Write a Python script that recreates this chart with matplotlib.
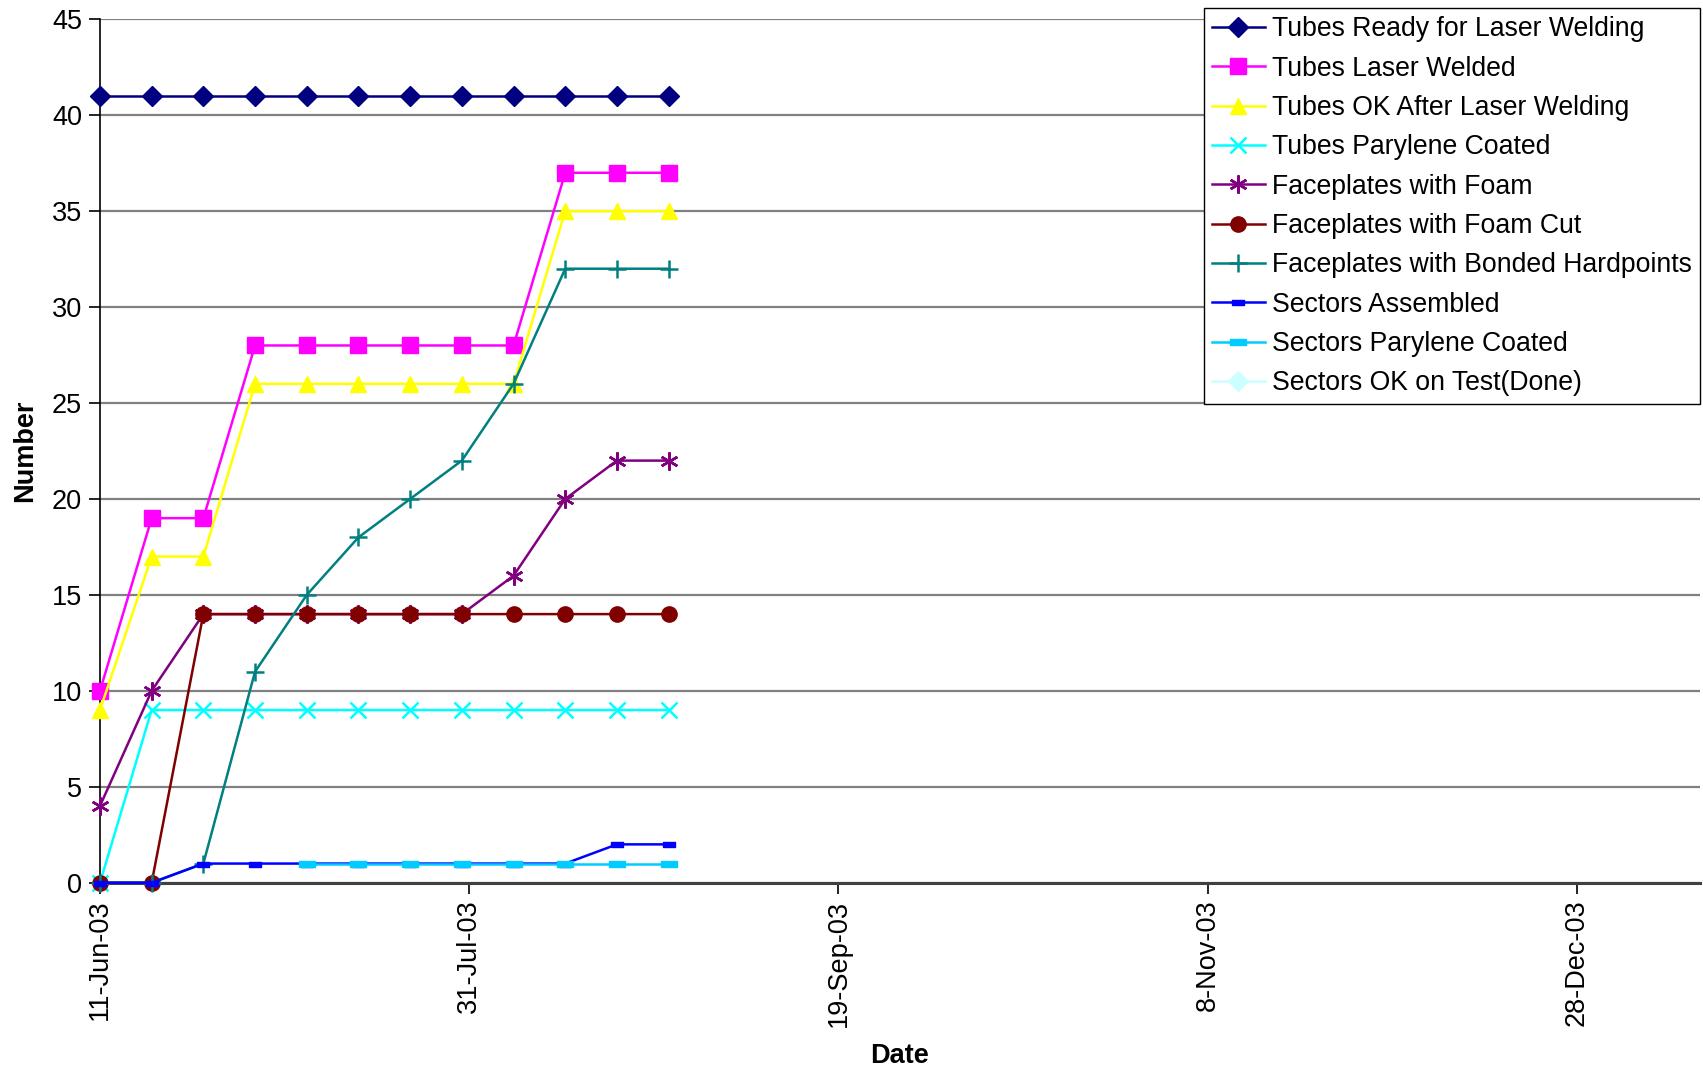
#!/usr/bin/env python3
import datetime as dt
import numpy as np
import matplotlib
matplotlib.use("Agg")
import matplotlib.pyplot as plt
import matplotlib.dates as mdates

plt.rcParams['font.family'] = ['Liberation Sans', 'DejaVu Sans']

# weekly dates, 11-Jun-03 .. 27-Aug-03
start = dt.date(2003, 6, 11)
dates = [start + dt.timedelta(days=7 * i) for i in range(12)]

nan = np.nan
tubes_ready = [41, 41, 41, 41, 41, 41, 41, 41, 41, 41, 41, 41]
tubes_welded = [10, 19, 19, 28, 28, 28, 28, 28, 28, 37, 37, 37]
tubes_ok = [9, 17, 17, 26, 26, 26, 26, 26, 26, 35, 35, 35]
tubes_parylene = [0, 9, 9, 9, 9, 9, 9, 9, 9, 9, 9, 9]
face_foam = [4, 10, 14, 14, 14, 14, 14, 14, 16, 20, 22, 22]
face_foam_cut = [0, 0, 14, 14, 14, 14, 14, 14, 14, 14, 14, 14]
face_hardpoints = [0, 0, 1, 11, 15, 18, 20, 22, 26, 32, 32, 32]
sectors_assembled = [0, 0, 1, 1, 1, 1, 1, 1, 1, 1, 2, 2]
sectors_parylene = [nan, nan, nan, nan, 1, 1, 1, 1, 1, 1, 1, 1]
sectors_ok = [nan] * 12

tick_labels = ['11-Jun-03', '31-Jul-03', '19-Sep-03', '8-Nov-03', '28-Dec-03']

dash = [(-1, -0.45), (1, -0.45), (1, 0.45), (-1, 0.45), (-1, -0.45)]

series = [
    ('Tubes Ready for Laser Welding', tubes_ready, '#000080', 'D', 10),
    ('Tubes Laser Welded', tubes_welded, '#FF00FF', 's', 11),
    ('Tubes OK After Laser Welding', tubes_ok, '#FFFF00', '^', 12),
    ('Tubes Parylene Coated', tubes_parylene, '#00FFFF', 'x', 11),
    ('Faceplates with Foam', face_foam, '#800080', (6, 2, 0), 13),
    ('Faceplates with Foam Cut', face_foam_cut, '#800000', 'o', 11),
    ('Faceplates with Bonded Hardpoints', face_hardpoints, '#008080', '+', 13),
    ('Sectors Assembled', sectors_assembled, '#0000FF', dash, 8),
    ('Sectors Parylene Coated', sectors_parylene, '#00CCFF', dash, 11),
    ('Sectors OK on Test(Done)', sectors_ok, '#CCFFFF', 'D', 10),
]

fig = plt.figure(figsize=(17.03, 10.70), dpi=100)
ax = fig.add_axes([0.0587, 0.175, 0.9393, 0.807])

for label, vals, color, marker, ms in series:
    lined = marker in ('x', '+') or isinstance(marker, tuple)
    ax.plot(dates, vals, color=color, lw=1.8, marker=marker, markersize=ms,
            markerfacecolor=color, markeredgecolor=color,
            markeredgewidth=1.8 if lined else 1.0, label=label, clip_on=False,
            zorder=3)

ax.set_ylim(0, 45)
ax.set_yticks(range(0, 46, 5))
ax.set_xlim(mdates.date2num(start), mdates.date2num(start) + 216.6)
ticks = [mdates.date2num(start) + 50 * i for i in range(5)]
ax.set_xticks(ticks)
ax.set_xticklabels(tick_labels, rotation=90)

ax.yaxis.grid(True, color='#808080', lw=1.6)
ax.set_axisbelow(True)
for s in ('top', 'right'):
    ax.spines[s].set_visible(False)
ax.spines['left'].set_color('black')
ax.spines['left'].set_linewidth(1.2)
ax.spines['bottom'].set_color('#404040')
ax.spines['bottom'].set_linewidth(2.2)
ax.tick_params(axis='both', labelsize=19.5, direction='out', length=8, width=1.2, color='black')
ax.tick_params(axis='x', pad=4)
ax.tick_params(axis='y', pad=5)

ax.set_ylabel('Number', fontsize=19.5, fontweight='bold', labelpad=10)
ax.set_xlabel('Date', fontsize=19.5, fontweight='bold', labelpad=12)

leg = ax.legend(loc='upper right', bbox_to_anchor=(1.0, 1.0125), fontsize=19.2,
                frameon=True, fancybox=False, edgecolor='black', framealpha=1,
                borderpad=0.3, labelspacing=0.5, handlelength=2.0,
                handletextpad=0.25, borderaxespad=0.0)
leg.get_frame().set_linewidth(1.0)
leg.set_zorder(5)

fig.savefig('out.png', dpi=100)
